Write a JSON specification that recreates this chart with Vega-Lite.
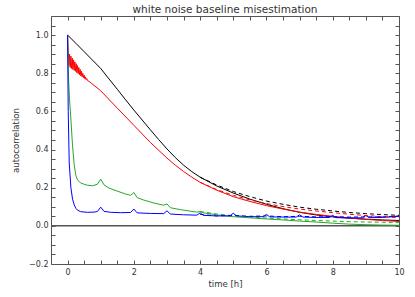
{
  "$schema": "https://vega.github.io/schema/vega-lite/v6.json",
  "width": 348,
  "height": 248,
  "autosize": {"type": "none"},
  "padding": {"left": 51, "top": 16, "right": 16, "bottom": 33},
  "background": "white",
  "title": {"text": "white noise baseline misestimation", "font": "DejaVu Sans", "fontSize": 10.5, "fontWeight": "normal", "color": "#333333", "offset": 2, "dy": 5, "anchor": "middle"},
  "config": {
    "view": {"stroke": null},
    "axis": {"grid": false, "domainColor": "#555555", "tickColor": "#555555", "labelColor": "#333333", "titleColor": "#333333", "labelFont": "DejaVu Sans", "titleFont": "DejaVu Sans", "labelFontSize": 8, "titleFontSize": 8.5, "titleFontWeight": "normal", "tickSize": -4, "domainWidth": 1, "tickWidth": 1}
  },
  "datasets": {
    "curves": [
      {"s":"k","d":"solid","t":0,"v":1.0},{"s":"k","d":"solid","t":0.25,"v":0.957},{"s":"k","d":"solid","t":0.5,"v":0.913},{"s":"k","d":"solid","t":0.75,"v":0.869},{"s":"k","d":"solid","t":1,"v":0.825},{"s":"k","d":"solid","t":1.25,"v":0.77},{"s":"k","d":"solid","t":1.5,"v":0.716},{"s":"k","d":"solid","t":1.75,"v":0.661},{"s":"k","d":"solid","t":2,"v":0.607},{"s":"k","d":"solid","t":2.25,"v":0.555},{"s":"k","d":"solid","t":2.5,"v":0.503},{"s":"k","d":"solid","t":2.75,"v":0.452},{"s":"k","d":"solid","t":3,"v":0.403},{"s":"k","d":"solid","t":3.25,"v":0.358},{"s":"k","d":"solid","t":3.5,"v":0.318},{"s":"k","d":"solid","t":3.75,"v":0.284},{"s":"k","d":"solid","t":4,"v":0.255},{"s":"k","d":"solid","t":4.5,"v":0.209},{"s":"k","d":"solid","t":5,"v":0.172},{"s":"k","d":"solid","t":5.5,"v":0.14},{"s":"k","d":"solid","t":6,"v":0.113},{"s":"k","d":"solid","t":6.5,"v":0.09},{"s":"k","d":"solid","t":7,"v":0.071},{"s":"k","d":"solid","t":7.5,"v":0.057},{"s":"k","d":"solid","t":8,"v":0.047},{"s":"k","d":"solid","t":8.5,"v":0.04},{"s":"k","d":"solid","t":9,"v":0.035},{"s":"k","d":"solid","t":9.5,"v":0.031},{"s":"k","d":"solid","t":10,"v":0.028},
      {"s":"r","d":"solid","t":0,"v":1.0},{"s":"r","d":"solid","t":0.02,"v":0.91},{"s":"r","d":"solid","t":0.04,"v":0.84},{"s":"r","d":"solid","t":0.06,"v":0.9},{"s":"r","d":"solid","t":0.08,"v":0.83},{"s":"r","d":"solid","t":0.1,"v":0.89},{"s":"r","d":"solid","t":0.12,"v":0.825},{"s":"r","d":"solid","t":0.14,"v":0.88},{"s":"r","d":"solid","t":0.16,"v":0.82},{"s":"r","d":"solid","t":0.18,"v":0.87},{"s":"r","d":"solid","t":0.2,"v":0.815},{"s":"r","d":"solid","t":0.22,"v":0.86},{"s":"r","d":"solid","t":0.24,"v":0.81},{"s":"r","d":"solid","t":0.26,"v":0.85},{"s":"r","d":"solid","t":0.28,"v":0.803},{"s":"r","d":"solid","t":0.3,"v":0.84},{"s":"r","d":"solid","t":0.32,"v":0.798},{"s":"r","d":"solid","t":0.34,"v":0.83},{"s":"r","d":"solid","t":0.36,"v":0.792},{"s":"r","d":"solid","t":0.38,"v":0.82},{"s":"r","d":"solid","t":0.4,"v":0.786},{"s":"r","d":"solid","t":0.42,"v":0.81},{"s":"r","d":"solid","t":0.44,"v":0.781},{"s":"r","d":"solid","t":0.46,"v":0.8},{"s":"r","d":"solid","t":0.48,"v":0.776},{"s":"r","d":"solid","t":0.5,"v":0.79},{"s":"r","d":"solid","t":0.52,"v":0.771},{"s":"r","d":"solid","t":0.54,"v":0.781},{"s":"r","d":"solid","t":0.56,"v":0.766},{"s":"r","d":"solid","t":0.58,"v":0.772},{"s":"r","d":"solid","t":0.6,"v":0.762},{"s":"r","d":"solid","t":0.65,"v":0.757},{"s":"r","d":"solid","t":1,"v":0.708},{"s":"r","d":"solid","t":1.5,"v":0.617},{"s":"r","d":"solid","t":2,"v":0.527},{"s":"r","d":"solid","t":2.5,"v":0.437},{"s":"r","d":"solid","t":3,"v":0.355},{"s":"r","d":"solid","t":3.25,"v":0.318},{"s":"r","d":"solid","t":3.5,"v":0.285},{"s":"r","d":"solid","t":3.75,"v":0.255},{"s":"r","d":"solid","t":4,"v":0.228},{"s":"r","d":"solid","t":4.5,"v":0.187},{"s":"r","d":"solid","t":5,"v":0.153},{"s":"r","d":"solid","t":5.5,"v":0.128},{"s":"r","d":"solid","t":6,"v":0.106},{"s":"r","d":"solid","t":6.5,"v":0.088},{"s":"r","d":"solid","t":7,"v":0.072},{"s":"r","d":"solid","t":7.5,"v":0.06},{"s":"r","d":"solid","t":8,"v":0.05},{"s":"r","d":"solid","t":8.5,"v":0.041},{"s":"r","d":"solid","t":9,"v":0.034},{"s":"r","d":"solid","t":9.5,"v":0.028},{"s":"r","d":"solid","t":10,"v":0.023},
      {"s":"g","d":"solid","t":0,"v":1.0},{"s":"g","d":"solid","t":0.03,"v":0.77},{"s":"g","d":"solid","t":0.06,"v":0.66},{"s":"g","d":"solid","t":0.1,"v":0.56},{"s":"g","d":"solid","t":0.15,"v":0.42},{"s":"g","d":"solid","t":0.2,"v":0.32},{"s":"g","d":"solid","t":0.25,"v":0.265},{"s":"g","d":"solid","t":0.3,"v":0.24},{"s":"g","d":"solid","t":0.4,"v":0.225},{"s":"g","d":"solid","t":0.5,"v":0.218},{"s":"g","d":"solid","t":0.6,"v":0.213},{"s":"g","d":"solid","t":0.75,"v":0.21},{"s":"g","d":"solid","t":0.9,"v":0.218},{"s":"g","d":"solid","t":1,"v":0.245},{"s":"g","d":"solid","t":1.1,"v":0.215},{"s":"g","d":"solid","t":1.25,"v":0.198},{"s":"g","d":"solid","t":1.5,"v":0.182},{"s":"g","d":"solid","t":1.75,"v":0.167},{"s":"g","d":"solid","t":1.9,"v":0.16},{"s":"g","d":"solid","t":2,"v":0.175},{"s":"g","d":"solid","t":2.1,"v":0.148},{"s":"g","d":"solid","t":2.3,"v":0.135},{"s":"g","d":"solid","t":2.6,"v":0.12},{"s":"g","d":"solid","t":2.9,"v":0.108},{"s":"g","d":"solid","t":3,"v":0.115},{"s":"g","d":"solid","t":3.1,"v":0.095},{"s":"g","d":"solid","t":3.4,"v":0.085},{"s":"g","d":"solid","t":3.7,"v":0.077},{"s":"g","d":"solid","t":3.9,"v":0.072},{"s":"g","d":"solid","t":4,"v":0.075},{"s":"g","d":"solid","t":4.1,"v":0.068},{"s":"g","d":"solid","t":4.5,"v":0.058},{"s":"g","d":"solid","t":5,"v":0.048},{"s":"g","d":"solid","t":5.5,"v":0.042},{"s":"g","d":"solid","t":6,"v":0.036},{"s":"g","d":"solid","t":6.5,"v":0.031},{"s":"g","d":"solid","t":7,"v":0.025},{"s":"g","d":"solid","t":7.5,"v":0.02},{"s":"g","d":"solid","t":8,"v":0.014},{"s":"g","d":"solid","t":8.5,"v":0.009},{"s":"g","d":"solid","t":9,"v":0.006},{"s":"g","d":"solid","t":9.5,"v":0.004},{"s":"g","d":"solid","t":10,"v":0.003},
      {"s":"b","d":"solid","t":0,"v":1.0},{"s":"b","d":"solid","t":0.02,"v":0.6},{"s":"b","d":"solid","t":0.05,"v":0.33},{"s":"b","d":"solid","t":0.1,"v":0.2},{"s":"b","d":"solid","t":0.15,"v":0.14},{"s":"b","d":"solid","t":0.2,"v":0.11},{"s":"b","d":"solid","t":0.25,"v":0.092},{"s":"b","d":"solid","t":0.3,"v":0.082},{"s":"b","d":"solid","t":0.4,"v":0.074},{"s":"b","d":"solid","t":0.6,"v":0.071},{"s":"b","d":"solid","t":0.8,"v":0.072},{"s":"b","d":"solid","t":0.9,"v":0.075},{"s":"b","d":"solid","t":1,"v":0.098},{"s":"b","d":"solid","t":1.1,"v":0.076},{"s":"b","d":"solid","t":1.3,"v":0.071},{"s":"b","d":"solid","t":1.6,"v":0.069},{"s":"b","d":"solid","t":1.9,"v":0.07},{"s":"b","d":"solid","t":2,"v":0.088},{"s":"b","d":"solid","t":2.1,"v":0.068},{"s":"b","d":"solid","t":2.5,"v":0.065},{"s":"b","d":"solid","t":2.9,"v":0.064},{"s":"b","d":"solid","t":3,"v":0.079},{"s":"b","d":"solid","t":3.1,"v":0.062},{"s":"b","d":"solid","t":3.5,"v":0.058},{"s":"b","d":"solid","t":3.9,"v":0.056},{"s":"b","d":"solid","t":4,"v":0.068},{"s":"b","d":"solid","t":4.1,"v":0.055},{"s":"b","d":"solid","t":4.5,"v":0.052},{"s":"b","d":"solid","t":4.9,"v":0.052},{"s":"b","d":"solid","t":5,"v":0.066},{"s":"b","d":"solid","t":5.1,"v":0.052},{"s":"b","d":"solid","t":5.5,"v":0.048},{"s":"b","d":"solid","t":5.9,"v":0.048},{"s":"b","d":"solid","t":6,"v":0.06},{"s":"b","d":"solid","t":6.1,"v":0.047},{"s":"b","d":"solid","t":6.5,"v":0.046},{"s":"b","d":"solid","t":6.9,"v":0.046},{"s":"b","d":"solid","t":7,"v":0.058},{"s":"b","d":"solid","t":7.1,"v":0.046},{"s":"b","d":"solid","t":7.5,"v":0.044},{"s":"b","d":"solid","t":7.9,"v":0.044},{"s":"b","d":"solid","t":8,"v":0.055},{"s":"b","d":"solid","t":8.1,"v":0.043},{"s":"b","d":"solid","t":8.5,"v":0.042},{"s":"b","d":"solid","t":8.9,"v":0.042},{"s":"b","d":"solid","t":9,"v":0.054},{"s":"b","d":"solid","t":9.1,"v":0.043},{"s":"b","d":"solid","t":9.5,"v":0.044},{"s":"b","d":"solid","t":9.8,"v":0.048},{"s":"b","d":"solid","t":10,"v":0.052},
      {"s":"k","d":"dashed","t":4,"v":0.255},{"s":"k","d":"dashed","t":4.5,"v":0.214},{"s":"k","d":"dashed","t":5,"v":0.18},{"s":"k","d":"dashed","t":5.5,"v":0.153},{"s":"k","d":"dashed","t":6,"v":0.13},{"s":"k","d":"dashed","t":6.5,"v":0.113},{"s":"k","d":"dashed","t":7,"v":0.098},{"s":"k","d":"dashed","t":7.5,"v":0.087},{"s":"k","d":"dashed","t":8,"v":0.078},{"s":"k","d":"dashed","t":8.5,"v":0.07},{"s":"k","d":"dashed","t":9,"v":0.064},{"s":"k","d":"dashed","t":9.5,"v":0.059},{"s":"k","d":"dashed","t":10,"v":0.055},
      {"s":"r","d":"dashed","t":4,"v":0.228},{"s":"r","d":"dashed","t":4.5,"v":0.19},{"s":"r","d":"dashed","t":5,"v":0.16},{"s":"r","d":"dashed","t":5.5,"v":0.136},{"s":"r","d":"dashed","t":6,"v":0.117},{"s":"r","d":"dashed","t":6.5,"v":0.101},{"s":"r","d":"dashed","t":7,"v":0.088},{"s":"r","d":"dashed","t":7.5,"v":0.078},{"s":"r","d":"dashed","t":8,"v":0.069},{"s":"r","d":"dashed","t":8.5,"v":0.061},{"s":"r","d":"dashed","t":9,"v":0.054},{"s":"r","d":"dashed","t":9.5,"v":0.048},{"s":"r","d":"dashed","t":10,"v":0.043},
      {"s":"g","d":"dashed","t":4,"v":0.075},{"s":"g","d":"dashed","t":4.5,"v":0.062},{"s":"g","d":"dashed","t":5,"v":0.053},{"s":"g","d":"dashed","t":5.5,"v":0.046},{"s":"g","d":"dashed","t":6,"v":0.041},{"s":"g","d":"dashed","t":6.5,"v":0.036},{"s":"g","d":"dashed","t":7,"v":0.032},{"s":"g","d":"dashed","t":7.5,"v":0.028},{"s":"g","d":"dashed","t":8,"v":0.025},{"s":"g","d":"dashed","t":8.5,"v":0.022},{"s":"g","d":"dashed","t":9,"v":0.02},{"s":"g","d":"dashed","t":9.5,"v":0.019},{"s":"g","d":"dashed","t":10,"v":0.018},
      {"s":"b","d":"dashed","t":4,"v":0.06},{"s":"b","d":"dashed","t":4.5,"v":0.052},{"s":"b","d":"dashed","t":5,"v":0.055},{"s":"b","d":"dashed","t":5.5,"v":0.05},{"s":"b","d":"dashed","t":6,"v":0.052},{"s":"b","d":"dashed","t":6.5,"v":0.048},{"s":"b","d":"dashed","t":7,"v":0.05},{"s":"b","d":"dashed","t":7.5,"v":0.047},{"s":"b","d":"dashed","t":8,"v":0.048},{"s":"b","d":"dashed","t":8.5,"v":0.046},{"s":"b","d":"dashed","t":9,"v":0.047},{"s":"b","d":"dashed","t":9.5,"v":0.047},{"s":"b","d":"dashed","t":10,"v":0.05}
    ]
  },
  "layer": [
    {
      "data": {"values": [{"z": 0}]},
      "mark": {"type": "rule", "color": "#555555", "strokeWidth": 1.5},
      "encoding": {
        "y": {"field": "z", "type": "quantitative", "scale": {"domain": [-0.2, 1.1], "nice": false, "zero": false}, "axis": null}
      }
    },
    {
      "data": {"name": "curves"},
      "transform": [{"filter": "datum.d === 'solid'"}],
      "mark": {"type": "line", "strokeWidth": 1, "clip": true},
      "encoding": {
        "x": {"field": "t", "type": "quantitative", "scale": {"domain": [-0.5, 10], "nice": false, "zero": false},
          "axis": {"orient": "bottom", "title": "time [h]", "values": [0,0.5,1,1.5,2,2.5,3,3.5,4,4.5,5,5.5,6,6.5,7,7.5,8,8.5,9,9.5,10], "labelExpr": "datum.value % 2 === 0 ? format(datum.value, 'd') : ''", "labelPadding": 8, "titlePadding": 3, "labelFlush": false, "labelOverlap": false}},
        "y": {"field": "v", "type": "quantitative", "scale": {"domain": [-0.2, 1.1], "nice": false, "zero": false},
          "axis": {"orient": "left", "title": "autocorrelation", "values": [-0.2,-0.15,-0.1,-0.05,0,0.05,0.1,0.15,0.2,0.25,0.3,0.35,0.4,0.45,0.5,0.55,0.6,0.65,0.7,0.75,0.8,0.85,0.9,0.95,1.0,1.05,1.1], "labelExpr": "abs(round(datum.value*100)) % 20 === 0 && abs(datum.value) < 1.05 ? format(datum.value, '.1f') : ''", "labelPadding": 7, "titlePadding": 8, "labelFlush": false, "labelOverlap": false}},
        "color": {"field": "s", "type": "nominal", "scale": {"domain": ["k","r","g","b"], "range": ["#000000","#ff0000","#22aa22","#0000ff"]}, "legend": null}
      }
    },
    {
      "data": {"name": "curves"},
      "transform": [{"filter": "datum.d === 'dashed'"}],
      "mark": {"type": "line", "strokeWidth": 1, "strokeDash": [4, 3], "clip": true},
      "encoding": {
        "x": {"field": "t", "type": "quantitative", "scale": {"domain": [-0.5, 10], "nice": false, "zero": false},
          "axis": {"orient": "top", "title": null, "labels": false, "values": [0,0.5,1,1.5,2,2.5,3,3.5,4,4.5,5,5.5,6,6.5,7,7.5,8,8.5,9,9.5,10]}},
        "y": {"field": "v", "type": "quantitative", "scale": {"domain": [-0.2, 1.1], "nice": false, "zero": false},
          "axis": {"orient": "right", "title": null, "labels": false, "values": [-0.2,-0.15,-0.1,-0.05,0,0.05,0.1,0.15,0.2,0.25,0.3,0.35,0.4,0.45,0.5,0.55,0.6,0.65,0.7,0.75,0.8,0.85,0.9,0.95,1.0,1.05,1.1]}},
        "color": {"field": "s", "type": "nominal", "scale": {"domain": ["k","r","g","b"], "range": ["#000000","#ff0000","#22aa22","#0000ff"]}, "legend": null}
      }
    }
  ],
  "resolve": {"axis": {"x": "independent", "y": "independent"}}
}
